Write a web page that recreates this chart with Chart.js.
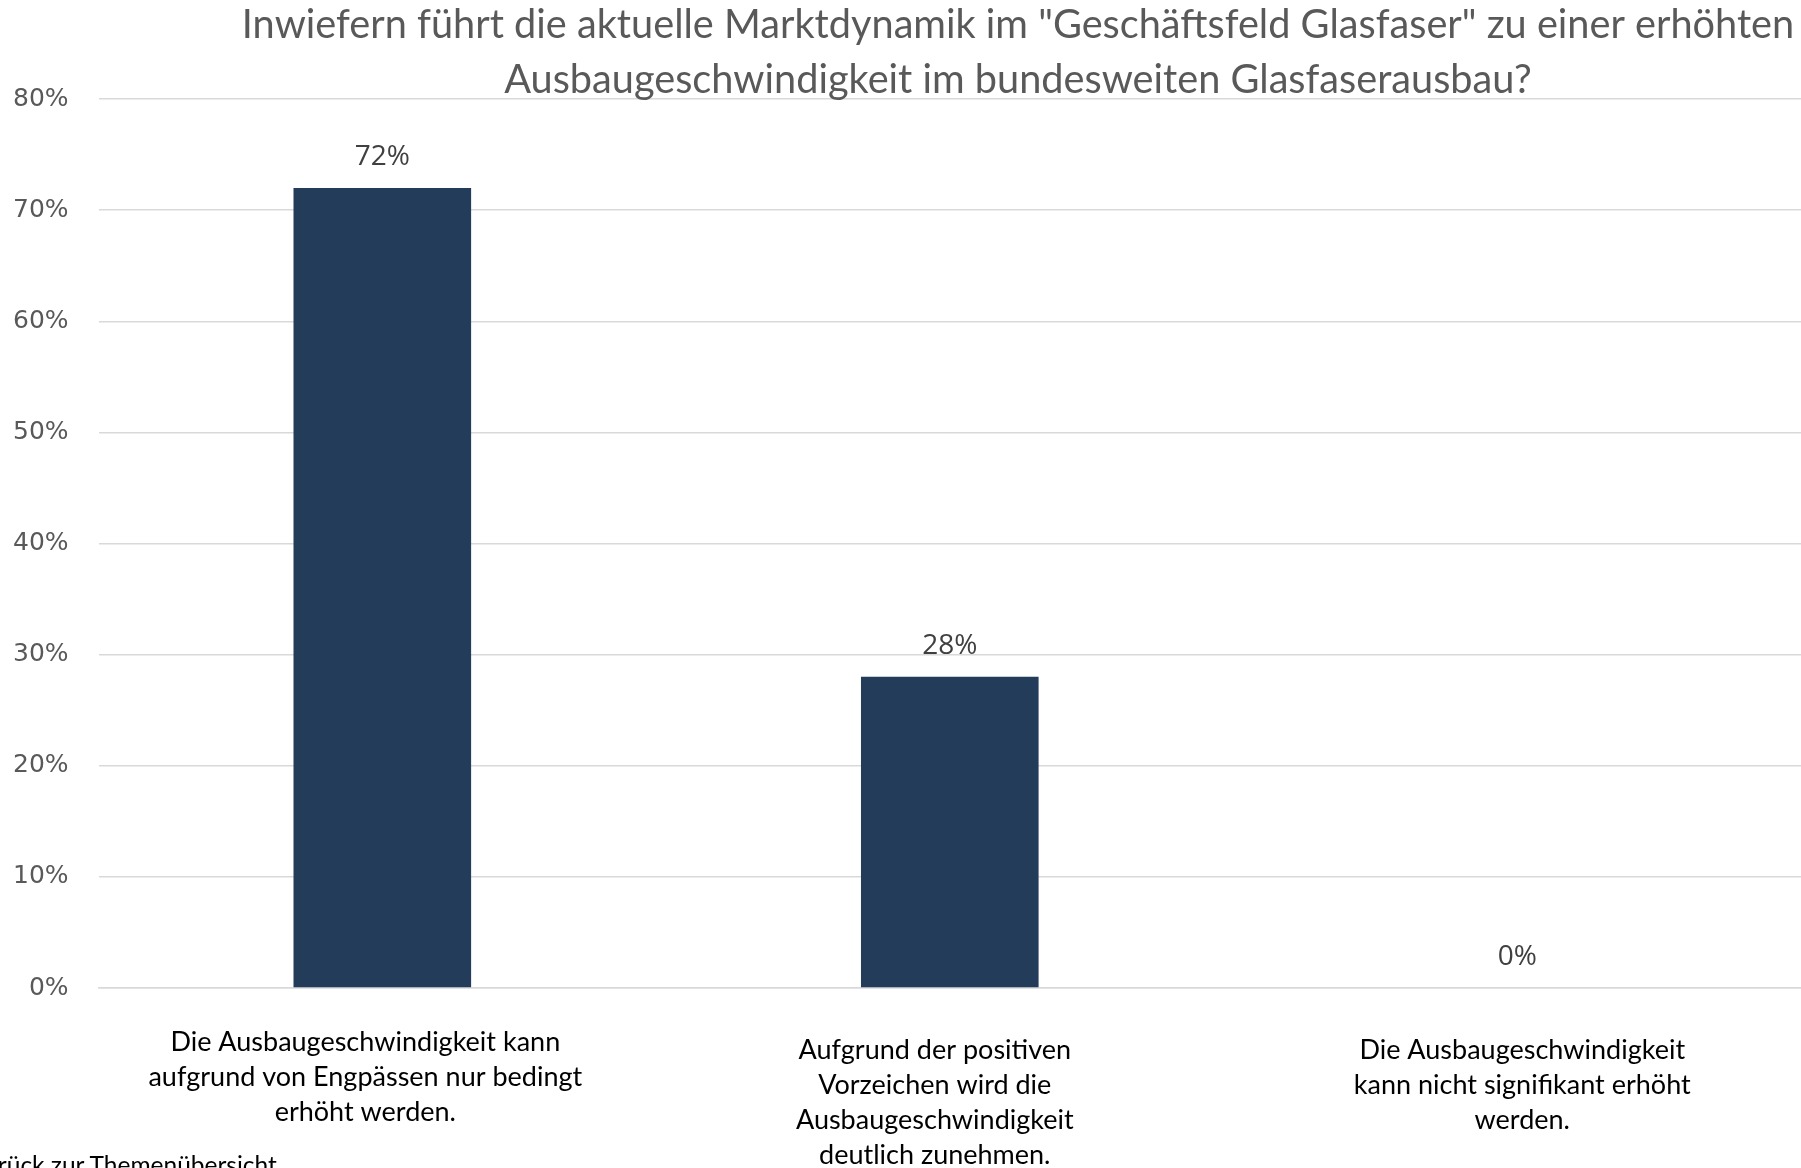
<!DOCTYPE html>
<html lang="de">
<head>
<meta charset="utf-8">
<title>Glasfaser Marktdynamik</title>
<script src="https://cdn.jsdelivr.net/npm/chart.js@4.4.1/dist/chart.umd.min.js"></script>
<style>
  html, body { margin: 0; padding: 0; background: #fff; overflow: hidden; }
  #wrap { position: relative; width: 1801px; height: 1168px; }
  #back {
    position: absolute; left: -30px; top: 1150px;
    font: 24.5px Lato, "Open Sans", sans-serif; color: #000; white-space: nowrap;
  }
</style>
</head>
<body>
<div id="wrap">
  <canvas id="marketChart"></canvas>
  <div id="back">Zurück zur Themenübersicht</div>
</div>
<script>
// Daten
const categories = [
  ['Die Ausbaugeschwindigkeit kann', 'aufgrund von Engpässen nur bedingt', 'erhöht werden.'],
  ['Aufgrund der positiven', 'Vorzeichen wird die', 'Ausbaugeschwindigkeit', 'deutlich zunehmen.'],
  ['Die Ausbaugeschwindigkeit', 'kann nicht signifikant erhöht', 'werden.']
];
const shares = [72, 28, 0];
const yTicks = [0, 10, 20, 30, 40, 50, 60, 70, 80];

const titleLines = [
  'Inwiefern führt die aktuelle Marktdynamik im "Geschäftsfeld Glasfaser" zu einer erhöhten',
  'Ausbaugeschwindigkeit im bundesweiten Glasfaserausbau?'
];

// Layout der Kategorienbeschriftung (Versatz wie im Original)
const labelShiftX = [-17, -15, 5];
const labelShiftY = [54, 62, 62];
const titleCenterX = 1018;

// Titel etwas nach rechts versetzen (Original ist rechts beschnitten)
const titleShift = {
  id: 'titleShift',
  afterLayout(chart) {
    const t = chart.titleBlock;
    if (!t) return;
    const d = titleCenterX - (t.left + t.right) / 2;
    t.left += d;
    t.right += d;
  }
};

// Wertbeschriftung über den Balken + Kategorien unter der Achse
const barLabels = {
  id: 'barLabels',
  afterDatasetsDraw(chart) {
    const ctx = chart.ctx;
    const meta = chart.getDatasetMeta(0);
    const xScale = chart.scales.x;
    ctx.save();
    ctx.textAlign = 'center';
    ctx.textBaseline = 'middle';

    ctx.font = '28px "Open Sans", sans-serif';
    ctx.fillStyle = '#404040';
    meta.data.forEach((bar, i) => {
      ctx.fillText(shares[i] + '%', bar.x, bar.y - 31);
    });

    ctx.font = '27px Lato, "Open Sans", sans-serif';
    ctx.fillStyle = '#000';
    chart.data.labels.forEach((lines, i) => {
      const x = xScale.getPixelForValue(i) + labelShiftX[i];
      const y0 = xScale.top + labelShiftY[i];
      lines.forEach((line, j) => ctx.fillText(line, x, y0 + j * 35));
    });
    ctx.restore();
  }
};

new Chart(document.getElementById('marketChart'), {
  type: 'bar',
  data: {
    labels: categories,
    datasets: [{
      data: shares,
      backgroundColor: '#223c5a',
      borderWidth: 0,
      categoryPercentage: 1,
      barPercentage: 0.313
    }]
  },
  options: {
    responsive: true,
    maintainAspectRatio: false,
    animation: false,
    layout: { padding: { left: -17, right: 0, top: 0, bottom: 180 } },
    plugins: {
      legend: { display: false },
      tooltip: { enabled: false },
      title: {
        display: true,
        text: titleLines,
        color: '#595959',
        font: { family: 'Lato, "Open Sans", sans-serif', size: 39.7, weight: 'normal', lineHeight: '55px' },
        padding: { top: -2, bottom: -9 }
      }
    },
    scales: {
      x: {
        grid: { display: false, drawTicks: false },
        border: { display: true, color: '#d9d9d9', width: 1.5 },
        ticks: { display: false }
      },
      y: {
        min: yTicks[0],
        max: yTicks[yTicks.length - 1],
        afterBuildTicks(scale) {
          scale.ticks = yTicks.map(v => ({ value: v }));
        },
        grid: { color: '#d9d9d9', lineWidth: 1.5, drawTicks: false },
        border: { display: false },
        ticks: {
          color: '#595959',
          font: { family: '"DejaVu Sans", sans-serif', size: 25 },
          padding: 30,
          callback: v => v + '%'
        }
      }
    }
  },
  plugins: [titleShift, barLabels]
});
</script>
</body>
</html>
